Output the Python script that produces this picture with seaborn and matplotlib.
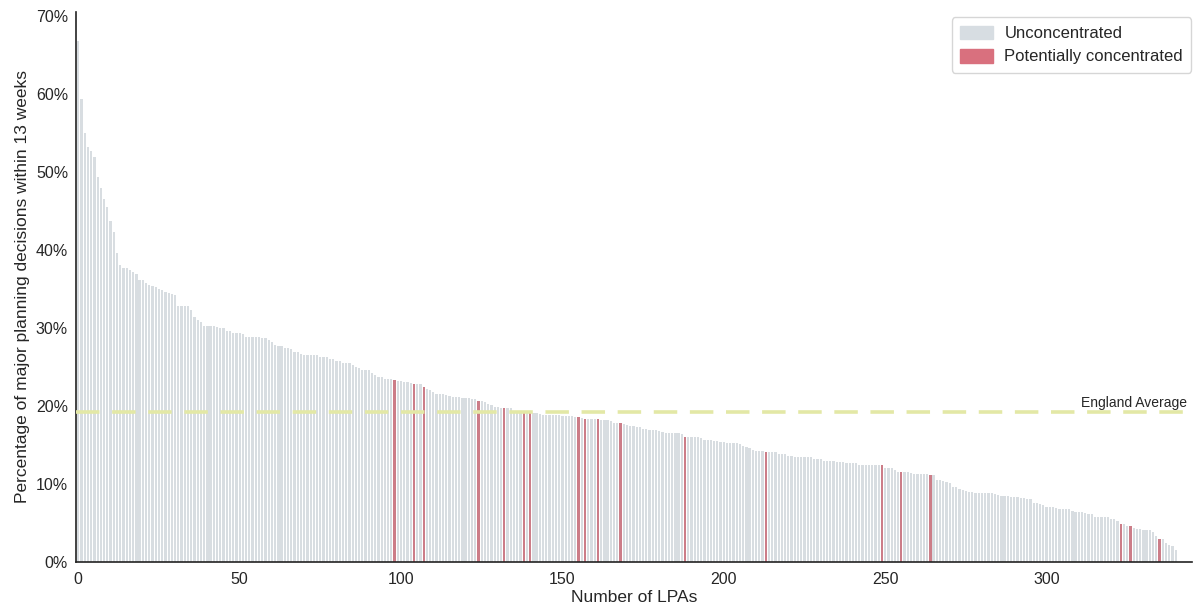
import numpy as np
import pandas as pd
import seaborn as sns
import matplotlib.pyplot as plt
from matplotlib.patches import Patch
import matplotlib.transforms as mtransforms

# % of major planning decisions within 13 weeks, one value per LPA (sorted)
values = [
    66.9, 59.4, 55.0, 53.2, 52.7, 52.0, 49.4, 48.0, 46.6, 45.6,
    43.8, 42.3, 39.6, 38.1, 37.7, 37.7, 37.5, 37.2, 37.0, 36.2,
    36.2, 35.8, 35.5, 35.4, 35.3, 35.0, 34.9, 34.7, 34.5, 34.4,
    34.2, 32.9,
    32.9, 32.9, 32.9, 32.3, 31.5, 31.1, 30.8, 30.3, 30.3, 30.3,
    30.3, 30.2, 30.0, 30.0, 29.7, 29.7, 29.4, 29.4, 29.4, 29.2,
    28.9, 28.9, 28.9, 28.9, 28.9, 28.8, 28.8, 28.5, 28.2, 27.9,
    27.7, 27.7, 27.4, 27.4, 27.3, 27.0, 27.0,
    26.7, 26.5, 26.5, 26.5, 26.5, 26.5, 26.3, 26.3, 26.3, 26.0,
    26.0, 25.8, 25.8, 25.5, 25.5, 25.5, 25.3, 25.0, 24.9, 24.7,
    24.7, 24.7, 24.3, 24.0, 23.8, 23.7, 23.5, 23.5, 23.5, 23.3,
    23.2, 23.2, 23.1, 23.1,
    23.0, 22.9, 22.8, 22.8, 22.5, 22.2, 22.1, 21.8, 21.6, 21.6,
    21.5, 21.4, 21.3, 21.2, 21.2, 21.2, 21.0, 21.0, 21.0, 20.9,
    20.9, 20.7, 20.6, 20.5, 20.3, 20.1, 19.9, 19.9, 19.8, 19.7,
    19.7, 19.7, 19.4, 19.4,
    19.4, 19.4, 19.3, 19.1, 19.1, 19.1, 19.0, 18.9, 18.9, 18.9,
    18.8, 18.8, 18.8, 18.7, 18.7, 18.7, 18.7, 18.65, 18.6, 18.5,
    18.4, 18.3, 18.3, 18.3, 18.3, 18.2, 18.2, 18.2, 18.1, 17.9,
    17.9, 17.9, 17.7, 17.6, 17.5,
    17.4, 17.3, 17.3, 17.1, 17.1, 16.9, 16.9, 16.9, 16.8, 16.7,
    16.5, 16.5, 16.5, 16.5, 16.5, 16.4, 16.1, 16.0, 16.0, 16.0,
    16.0, 15.9, 15.7, 15.7, 15.6, 15.5, 15.5, 15.4, 15.4, 15.3,
    15.3, 15.3, 15.3, 15.2, 14.9, 14.7, 14.6, 14.4, 14.2, 14.2,
    14.2, 14.1, 14.1, 14.1, 14.1, 13.8, 13.8, 13.8, 13.6, 13.6,
    13.5, 13.5, 13.5, 13.5, 13.5, 13.5, 13.2, 13.2, 13.2, 13.0,
    13.0, 13.0, 12.9, 12.8,
    12.8, 12.8, 12.7, 12.7, 12.7, 12.7, 12.5, 12.5, 12.4, 12.4,
    12.4, 12.4, 12.4, 12.4, 12.1, 12.0, 12.0, 11.8, 11.6, 11.6,
    11.5, 11.5, 11.4, 11.3, 11.3, 11.3, 11.3, 11.3, 11.2, 11.2,
    10.5, 10.5, 10.4, 10.3, 10.1, 9.6, 9.6,
    9.4, 9.3, 9.1, 9.0, 9.0, 8.9, 8.8, 8.8, 8.8, 8.8,
    8.8, 8.7, 8.6, 8.5, 8.5, 8.5, 8.4, 8.4, 8.4, 8.2,
    8.2, 8.1, 8.1, 7.6, 7.6, 7.4, 7.3, 7.1, 7.1, 7.0,
    6.9, 6.8, 6.8, 6.8, 6.8,
    6.6, 6.4, 6.4, 6.4, 6.3, 6.2, 6.2, 5.8, 5.8, 5.8,
    5.8, 5.8, 5.5, 5.5, 5.3, 4.9, 4.9, 4.6, 4.6, 4.4,
    4.3, 4.3, 4.1, 4.1, 4.1, 3.8, 3.3, 3.0, 3.0, 2.5,
    2.2, 2.1, 1.6,
]

# positions (in sorted order) of the potentially concentrated LPAs
concentrated = [98, 104, 107, 124, 132, 138, 140, 155, 157, 161,
                168, 188, 213, 249, 255, 264, 323, 326, 335]

england_average = 19.2
status_labels = ["Unconcentrated", "Potentially concentrated"]
x_ticks = [0, 50, 100, 150, 200, 250, 300]
y_ticks = [0, 10, 20, 30, 40, 50, 60, 70]

gray = "#d7dde2"
red = "#d9707e"
avg_color = "#e3e8a6"
text_color = "#262626"

sns.set_style("white")
plt.rcParams['font.family'] = ['Liberation Sans', 'DejaVu Sans']

df = pd.DataFrame({"lpa": np.arange(len(values)), "pct": values})
df["status"] = np.where(df["lpa"].isin(concentrated), status_labels[1], status_labels[0])

fig = plt.figure(figsize=(11.93, 6.04), dpi=100)
ax = fig.add_axes([0.064, 0.0695, 0.935, 0.911])

sns.barplot(data=df, x="lpa", y="pct", hue="status", hue_order=status_labels,
            palette=[gray, red], native_scale=True, dodge=False, width=0.7,
            errorbar=None, legend=False, linewidth=0, ax=ax)

ax.axhline(england_average, color=avg_color, lw=2.6, ls=(0, (6.5, 3.5)), zorder=3)
trans = mtransforms.blended_transform_factory(ax.transAxes, ax.transData)
ax.text(0.996, england_average + 0.35, "England Average", transform=trans,
        ha="right", va="bottom", fontsize=10, color=text_color)

ax.set_xlim(-0.6, 345)
ax.set_ylim(0, 70.6)
ax.set_xticks(x_ticks)
ax.set_xticklabels([str(t) for t in x_ticks], fontsize=11.5, color=text_color)
ax.set_yticks(y_ticks)
ax.set_yticklabels([f"{t}%" for t in y_ticks], fontsize=11.5, color=text_color)
ax.tick_params(axis="x", length=0, pad=7)
ax.tick_params(axis="y", length=0, pad=6)
ax.set_xlabel("Number of LPAs", fontsize=12.5, color=text_color, labelpad=2)
ax.set_ylabel("Percentage of major planning decisions within 13 weeks",
              fontsize=12.5, color=text_color, labelpad=4)

sns.despine(ax=ax)
for side in ["left", "bottom"]:
    ax.spines[side].set_color("#222222")
    ax.spines[side].set_linewidth(1.2)

handles = [Patch(color=gray, label=status_labels[0]),
           Patch(color=red, label=status_labels[1])]
ax.legend(handles=handles, loc="upper right", fontsize=12, frameon=True,
          handlelength=2.0, handleheight=0.9, handletextpad=0.65,
          borderpad=0.5, labelspacing=0.45, borderaxespad=0.0,
          bbox_to_anchor=(0.9995, 0.99))

fig.savefig("out.png", dpi=100)
